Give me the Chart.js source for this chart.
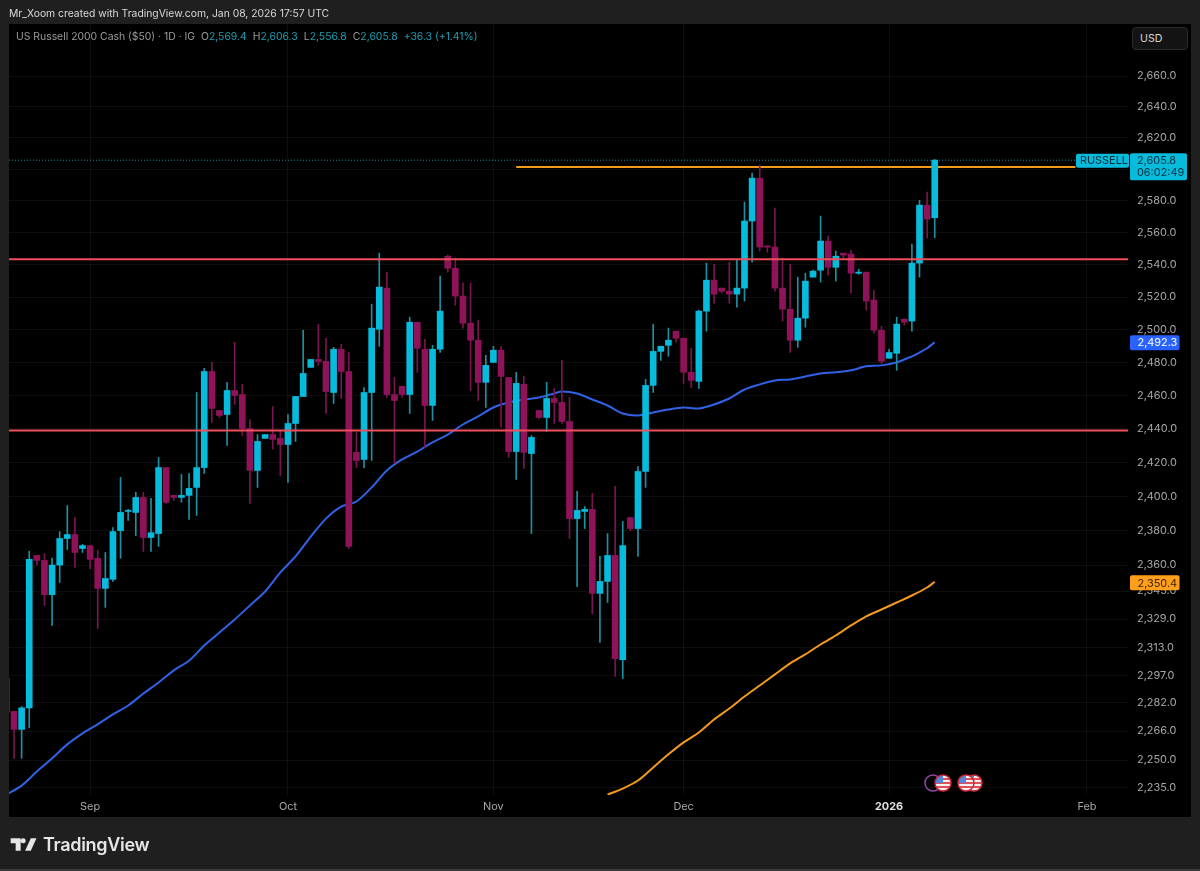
<!DOCTYPE html>
<html>
<head>
<meta charset="utf-8">
<title>US Russell 2000 Cash</title>
<script src="https://cdn.jsdelivr.net/npm/chart.js@4/dist/chart.umd.min.js"></script>
<style>
  html, body { margin: 0; padding: 0; background: #1f1f1f; width: 1200px; height: 871px; overflow: hidden; font-family: Inter, "Noto Sans", sans-serif; }
  #pane { position: absolute; left: 9px; top: 24px; width: 1182px; height: 793px; background: #000; }
  #grafico { position: absolute; left: 0; top: 0; }
  #autor { position: absolute; left: 9px; top: 7px; font-size: 10.35px; color: #d8d8d8; white-space: nowrap; }
  #legenda { position: absolute; left: 16px; top: 30px; font-size: 10.4px; color: #9a9a9a; white-space: nowrap; }
  #legenda b { font-weight: 400; color: #1f9fb3; margin-right: 6px; }
  #moeda { position: absolute; left: 1132px; top: 27px; width: 54px; height: 21px; line-height: 21px; border: 1px solid #2c2c2c; border-radius: 4px; background: #131313; color: #d8d8d8; font-size: 10.6px; text-indent: 7px; }
  #marca { position: absolute; left: 9px; top: 833px; width: 140px; height: 24px; color: #e6e6e6; }
  #marca svg { position: absolute; left: 0; top: 0; }
  #marca span { position: absolute; left: 34px; top: 0; font-size: 18px; line-height: 24px; font-weight: 600; letter-spacing: -0.3px; }
  #rodape { position: absolute; left: 0; top: 869px; width: 1200px; height: 2px; background: #3a3a3a; }
</style>
</head>
<body>
<div id="pane"></div>
<canvas id="grafico" width="1200" height="871"></canvas>
<div id="autor">Mr_Xoom created with TradingView.com, Jan 08, 2026 17:57 UTC</div>
<div id="legenda">US Russell 2000 Cash ($50) · 1D · IG &nbsp;O<b>2,569.4</b>H<b>2,606.3</b>L<b>2,556.8</b>C<b>2,605.8</b><b>+36.3 (+1.41%)</b></div>
<div id="moeda">USD</div>
<div id="marca">
  <svg width="30" height="24" viewBox="0 0 36 28"><path fill="currentColor" d="M14 6H2v6h6v9h6V6Zm12.15 15h-6.83l6.83-15h6.82l-6.82 15ZM20 9a3 3 0 1 1-6 0 3 3 0 0 1 6 0Z"/></svg>
  <span>TradingView</span>
</div>
<div id="rodape"></div>
<script>
/* =========================DADOS============================ */
const opens = [
  2295.4, 2277, 2267, 2279, 2365.6, 2362.7, 2343, 2360, 2375.4, 2377.7,
  2369.6, 2371.3, 2363.9, 2346.6, 2351.8, 2380, 2391.2, 2390.6, 2399.4, 2376,
  2378.3, 2417, 2400.6, 2399.4, 2400.6, 2405.3, 2417, 2474.5, 2451, 2448.6,
  2463, 2460.6, 2440.2, 2415.3, 2434.3, 2436.6, 2434.3, 2430.7, 2443.2, 2459.4,
  2477, 2481.8, 2480.6, 2461.8, 2488, 2474.5, 2426, 2421.8, 2461.8, 2500.2,
  2525.5, 2460.6, 2465.5, 2460.6, 2504.5, 2488, 2454, 2488, 2545.3, 2537.8,
  2520.6, 2503.9, 2493.5, 2467.9, 2480, 2487.4, 2470.9, 2426.5, 2466.7, 2425.3,
  2451, 2446.8, 2458.2, 2455.8, 2444.4, 2387, 2391.2, 2392.4, 2343.7, 2350.6,
  2365.6, 2306, 2387.6, 2381.2, 2414.7, 2466.1, 2486.7, 2490.4, 2499, 2494.7,
  2474, 2468.5, 2511.3, 2530.4, 2525.5, 2523.6, 2521.8, 2525.5, 2567.3, 2594.4,
  2551.7, 2551, 2525.5, 2512.5, 2493.5, 2507, 2532.3, 2536.6, 2554.7, 2538.4,
  2547.2, 2546.6, 2534.7, 2535.4, 2518.1, 2499.6, 2482.5, 2485.5, 2506.4, 2505.2,
  2541, 2577.3, 2569.4
];
const highs = [
  2297, 2277, 2279.7, 2368, 2365.6, 2366.7, 2364, 2379.4, 2394.6, 2387.6,
  2372, 2371.3, 2368.5, 2367.3, 2381.7, 2411.2, 2392.4, 2402.4, 2402.4, 2398.8,
  2423, 2417, 2400.6, 2412.9, 2413.5, 2461.8, 2476.4, 2480, 2451, 2468,
  2492.3, 2466.7, 2445.6, 2436.6, 2436.6, 2453.4, 2439, 2448.6, 2459.4, 2499.6,
  2481.8, 2503.3, 2494.7, 2489.2, 2491, 2486, 2437.8, 2464.8, 2515.6, 2547.2,
  2535.4, 2470.9, 2465.5, 2507.6, 2504.5, 2494.1, 2490.4, 2532.9, 2546, 2544.1,
  2528.6, 2528.6, 2505.8, 2484.3, 2489.8, 2489.8, 2470.9, 2474, 2471.5, 2436,
  2451, 2467.9, 2464.2, 2481.2, 2458.8, 2403, 2394.1, 2401.8, 2365, 2378.3,
  2405.9, 2385.3, 2387.6, 2417.6, 2469.7, 2503.3, 2489.8, 2500.9, 2499, 2494.7,
  2488.6, 2511.9, 2541, 2540.3, 2525.5, 2541.6, 2543.4, 2579.2, 2597.6, 2602.7,
  2551.7, 2575.4, 2544.1, 2540.3, 2532.3, 2534.7, 2536.6, 2570.4, 2557.9, 2548.5,
  2547.2, 2549.1, 2537.2, 2535.4, 2524.3, 2502, 2488, 2507.6, 2506.4, 2552.8,
  2580.4, 2585.5, 2606.3
];
const lows = [
  2276, 2251, 2251, 2268, 2360, 2336.8, 2325.4, 2350, 2369, 2358.7,
  2367.3, 2358, 2323.7, 2335.7, 2350.6, 2363.9, 2385.9, 2377.1, 2367.9, 2367.9,
  2370.8, 2395.9, 2397.6, 2396.5, 2386.5, 2388.8, 2413.5, 2443.8, 2446.8, 2430.1,
  2454.6, 2436, 2395.9, 2405.3, 2434.3, 2428, 2412.3, 2408.2, 2432.5, 2459.4,
  2477, 2478.2, 2449.2, 2455.2, 2458.2, 2369.6, 2417, 2417, 2421.2, 2489.8,
  2458.8, 2419.4, 2458.8, 2449.2, 2474, 2428.9, 2445, 2486, 2535.4, 2515,
  2500.9, 2463, 2457, 2452.8, 2480, 2441, 2423, 2410, 2416.5, 2378.3,
  2446.2, 2438.4, 2443.2, 2443.2, 2375.4, 2347.6, 2381.2, 2332, 2315.8, 2338.5,
  2296.6, 2295.4, 2380, 2365, 2405.3, 2461.8, 2481.2, 2483.7, 2492.3, 2467.3,
  2464.8, 2464.2, 2499, 2516.2, 2522.4, 2516.2, 2513.8, 2517.5, 2541.6, 2548.5,
  2547.8, 2523.6, 2505.2, 2486, 2489.2, 2501.5, 2532.3, 2529.2, 2533.5, 2529.8,
  2544.1, 2522.4, 2534.1, 2512, 2497.8, 2479.4, 2482.5, 2475.2, 2502.7, 2499,
  2532.3, 2556.6, 2556.8
];
const closes = [
  2276.4, 2267, 2279, 2363.3, 2362.7, 2343, 2360, 2375.4, 2377.7, 2367.3,
  2371.3, 2363.3, 2346.6, 2352.3, 2379.4, 2390.6, 2391.8, 2399.4, 2376, 2378.8,
  2417, 2396.5, 2399.4, 2400.6, 2404.7, 2417, 2474.5, 2452.2, 2448, 2463,
  2460, 2440.2, 2415.3, 2432.5, 2436.6, 2433.7, 2430.7, 2443.2, 2459.4, 2473.3,
  2481.8, 2480.6, 2462.4, 2488, 2474.5, 2370.8, 2421.2, 2461.8, 2500.9, 2526.1,
  2460.6, 2457, 2460.6, 2504.5, 2488.6, 2454, 2488, 2511.3, 2537.8, 2520.6,
  2503.9, 2493.5, 2467.9, 2478.2, 2487.4, 2471.5, 2426.5, 2467.3, 2426, 2434.9,
  2446.8, 2458.2, 2455.8, 2444.4, 2387, 2391.8, 2392.4, 2343.7, 2350.6, 2365.6,
  2306.6, 2371.3, 2381.2, 2414.7, 2466.1, 2486.7, 2489.8, 2493.5, 2494.7, 2474,
  2469.1, 2511.3, 2530.4, 2521.8, 2523.6, 2521.8, 2525.5, 2567.3, 2594.4, 2551,
  2551, 2525.5, 2512.5, 2493.5, 2507, 2529.8, 2536, 2554.7, 2538.4, 2545.3,
  2546, 2534.7, 2535.4, 2517.5, 2499.6, 2480.6, 2486, 2503.3, 2504.5, 2541,
  2577.3, 2568.5, 2605.8
];

const mediaCurtaBarras = [
  0, 2, 4, 6, 8, 10, 12, 14, 16, 18, 20, 22, 24, 26, 28, 30, 32, 34, 36, 38, 40, 42, 44, 46, 48, 50,
  52, 54, 56, 58, 60, 62, 64, 66, 68, 70, 72, 73, 75, 77, 79, 81, 83, 85, 87, 89, 91, 93, 95, 97, 99,
  101, 103, 105, 107, 109, 111, 113, 115, 117, 119, 120, 121, 122
];
const mediaCurta = [
  2231.1, 2236, 2243.7, 2251, 2258.7, 2264.8, 2269.8, 2275.3, 2280.3, 2287, 2293.2, 2300, 2305.4,
  2314, 2321.4, 2328.8, 2336.8, 2344.8, 2355.8, 2365, 2376.5, 2387, 2394, 2397, 2405.3, 2415.3,
  2421.8, 2426.5, 2431.9, 2436.6, 2442.6, 2447.4, 2452.8, 2455.8, 2457.6, 2458.8, 2461.2, 2462.4,
  2461.2, 2457.6, 2454, 2449.2, 2448, 2449.8, 2451.6, 2452.8, 2452.2, 2454.6, 2458.2, 2463.6, 2466.7,
  2469.1, 2469.7, 2471.5, 2473.3, 2474, 2475.2, 2477.6, 2478.2, 2480, 2483.7, 2486, 2488.6, 2492.3
];
const mediaLongaBarras = [79, 81, 83, 85, 87, 89, 91, 93, 95, 97, 99, 101, 103, 105, 107, 109, 111, 113, 115, 117, 119, 121, 122];
const mediaLonga = [
  2231.1, 2234.4, 2238.8, 2246, 2253.2, 2259.8, 2265.3, 2272.5, 2278.6, 2285.3, 2291.5, 2297.7,
  2303.9, 2309, 2314.6, 2319.7, 2325.4, 2330.6, 2334.5, 2338.5, 2342.5, 2347.1, 2350.4
];

const precosEixo = [
  2660, 2640, 2620, 2600, 2580, 2560, 2540, 2520, 2500, 2480, 2460, 2440, 2420, 2400, 2380, 2360,
  2345, 2329, 2313, 2297, 2282, 2266, 2250, 2235
];
const mesesBarras = [11, 37, 64, 89, 116, 142];
const mesesNomes = ['Sep', 'Oct', 'Nov', 'Dec', '2026', 'Feb'];

const resistencia = 2543.4;
const suporte = 2439;
const topo = 2601.4;
const topoInicio = 67;
const topoFim = 140.5;
const ultimoPreco = 2605.8;
const precoMin = 2230.9;
const precoMax = 2694.1;
const barraMin = 0.34;
const barraMax = 147.4;

/* =========================CORES============================ */
const corAlta = '#06bbdc';
const corBaixa = '#8f1359';
const pavioAlta = '#1f8fa3';
const pavioBaixa = '#7a1550';

const sobe = opens.map((o, i) => closes[i] >= o);

function formatar(v) {
  return v.toLocaleString('en-US', { minimumFractionDigits: 1, maximumFractionDigits: 1 });
}

function etiqueta(ctx, x, y, w, h, fundo, cor, texto, recuo) {
  ctx.fillStyle = fundo;
  ctx.beginPath();
  ctx.roundRect(x, y, w, h, 2);
  ctx.fill();
  ctx.fillStyle = cor;
  ctx.textBaseline = 'middle';
  ctx.textAlign = 'left';
  ctx.font = '10.9px Inter';
  ctx.fillText(texto, x + recuo, y + h / 2 + 0.5);
}

function bandeira(ctx, x, y) {
  ctx.save();
  ctx.beginPath();
  ctx.arc(x, y, 8, 0, Math.PI * 2);
  ctx.fillStyle = '#f2f2f2';
  ctx.fill();
  ctx.clip();
  ctx.fillStyle = '#e0505a';
  ctx.fillRect(x - 8, y - 5, 16, 2);
  ctx.fillRect(x - 8, y - 1, 16, 2);
  ctx.fillRect(x - 8, y + 3, 16, 2);
  ctx.fillStyle = '#4f86e0';
  ctx.fillRect(x - 8, y - 8, 8, 8);
  ctx.restore();
  ctx.beginPath();
  ctx.arc(x, y, 8, 0, Math.PI * 2);
  ctx.strokeStyle = '#c9283a';
  ctx.lineWidth = 1.5;
  ctx.stroke();
}

/* etiquetas de preço e eventos */
const extras = {
  id: 'extras',
  afterDraw(chart) {
    const ctx = chart.ctx, y = chart.scales.y;
    const yAtual = y.getPixelForValue(ultimoPreco);
    ctx.save();
    etiqueta(ctx, 1076, yAtual - 6.5, 53, 14, corAlta, '#07303c', 'RUSSELL', 4);
    ctx.fillStyle = corAlta;
    ctx.beginPath();
    ctx.roundRect(1130, yAtual - 7, 57, 27, 2);
    ctx.fill();
    ctx.fillStyle = '#07303c';
    ctx.font = '10.9px Inter';
    ctx.textBaseline = 'middle';
    ctx.fillText(formatar(ultimoPreco), 1137, yAtual + 0.5);
    ctx.fillText('06:02:49', 1137, yAtual + 13);
    const yCurta = y.getPixelForValue(mediaCurta[mediaCurta.length - 1]);
    etiqueta(ctx, 1130, yCurta - 7, 49.5, 15, '#2962ff', '#fff', formatar(mediaCurta[mediaCurta.length - 1]), 7.5);
    const yLonga = y.getPixelForValue(mediaLonga[mediaLonga.length - 1]);
    etiqueta(ctx, 1130, yLonga - 6.5, 49.5, 15, '#ff9f1a', '#3a2200', formatar(mediaLonga[mediaLonga.length - 1]), 7.5);

    ctx.beginPath();
    ctx.arc(933, 783, 8, 0, Math.PI * 2);
    ctx.strokeStyle = '#8e4aa8';
    ctx.lineWidth = 1.5;
    ctx.stroke();
    bandeira(ctx, 974, 783);
    bandeira(ctx, 966, 783);
    bandeira(ctx, 943, 783);
    ctx.restore();
  }
};

function linha(dados, cor, largura, ordem, extra) {
  return Object.assign({
    type: 'line',
    data: dados,
    borderColor: cor,
    borderWidth: largura,
    pointRadius: 0,
    fill: false,
    order: ordem
  }, extra || {});
}

const ctx1 = document.getElementById('grafico');
new Chart(ctx1, {
  data: {
    datasets: [
      linha([{ x: barraMin, y: resistencia }, { x: barraMax, y: resistencia }], '#ee4f5a', 2, 1),
      linha([{ x: barraMin, y: suporte }, { x: barraMax, y: suporte }], '#ee4f5a', 2, 1),
      linha([{ x: topoInicio, y: topo }, { x: topoFim, y: topo }], '#f39a1e', 2, 4),
      linha([{ x: barraMin, y: ultimoPreco }, { x: topoFim, y: ultimoPreco }], '#1f8fa3', 1, 5, { borderDash: [1, 2] }),
      {
        type: 'bar',
        data: opens.map((o, i) => ({ x: i, y: [o, closes[i]] })),
        backgroundColor: sobe.map(s => s ? corAlta : corBaixa),
        barThickness: 6,
        minBarLength: 1,
        grouped: false,
        order: 2
      },
      {
        type: 'bar',
        data: opens.map((o, i) => ({ x: i, y: [lows[i], highs[i]] })),
        backgroundColor: sobe.map(s => s ? pavioAlta : pavioBaixa),
        barThickness: 1,
        grouped: false,
        order: 3
      },
      linha(mediaCurta.map((v, i) => ({ x: mediaCurtaBarras[i], y: v })), '#2f62e6', 2, 4, { tension: 0.3 }),
      linha(mediaLonga.map((v, i) => ({ x: mediaLongaBarras[i], y: v })), '#f39a1e', 2, 4, { tension: 0.3 })
    ]
  },
  options: {
    responsive: false,
    animation: false,
    layout: { padding: { left: 9, right: 10, top: 24, bottom: 56 } },
    plugins: { legend: { display: false }, tooltip: { enabled: false } },
    scales: {
      x: {
        type: 'linear',
        min: barraMin,
        max: barraMax,
        offset: false,
        afterBuildTicks(scale) {
          scale.ticks = mesesBarras.map(v => ({ value: v }));
        },
        afterFit(scale) { scale.height = 20; },
        grid: { color: 'rgba(255,255,255,0.055)', drawTicks: false, offset: false },
        border: { display: false },
        ticks: {
          padding: 5,
          maxRotation: 0,
          autoSkip: false,
          callback(v) { return mesesNomes[mesesBarras.indexOf(v)]; },
          color: c => c.tick && c.tick.value === 116 ? '#e2e2e2' : '#a8a8a8',
          font: c => ({ family: 'Inter', size: 10.9, weight: c.tick && c.tick.value === 116 ? '700' : '400' })
        }
      },
      y: {
        type: 'logarithmic',
        position: 'right',
        min: precoMin,
        max: precoMax,
        afterBuildTicks(scale) {
          scale.ticks = precosEixo.map(v => ({ value: v }));
        },
        afterFit(scale) { scale.width = 62; },
        grid: { color: 'rgba(255,255,255,0.055)', drawTicks: false },
        border: { display: false },
        ticks: {
          padding: 9,
          autoSkip: false,
          callback(v) { return formatar(v); },
          color: '#a8a8a8',
          font: { family: 'Inter', size: 10.9 }
        }
      }
    }
  },
  plugins: [extras]
});
</script>
</body>
</html>
